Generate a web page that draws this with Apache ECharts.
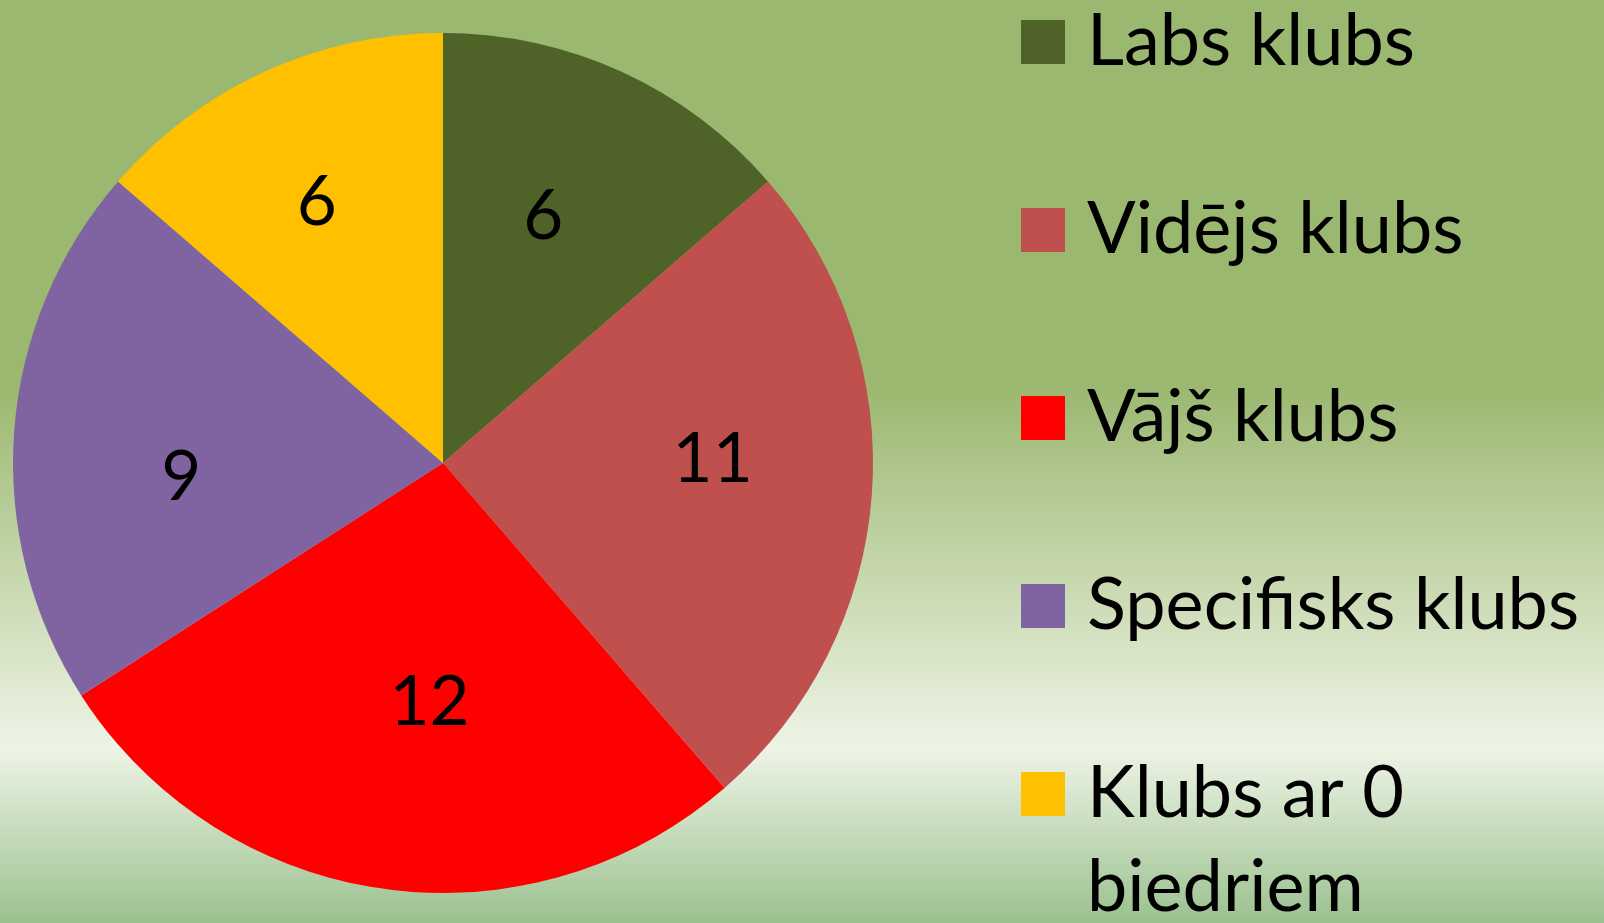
<!DOCTYPE html>
<html>
<head>
<meta charset="utf-8">
<script src="https://cdn.jsdelivr.net/npm/echarts@6/dist/echarts.min.js"></script>
<style>
  html, body { margin: 0; padding: 0; }
  #chart { width: 1604px; height: 923px; }
</style>
</head>
<body>
<div id="chart"></div>
<script>
const categories = ['Labs klubs', 'Vidējs klubs', 'Vājš klubs', 'Specifisks klubs', 'Klubs ar 0 biedriem'];
const values = [6, 11, 12, 9, 6];
const colors = ['#4F6228', '#C0504D', '#FF0000', '#8064A2', '#FFC000'];
const legendLines = [['Labs klubs'], ['Vidējs klubs'], ['Vājš klubs'], ['Specifisks klubs'], ['Klubs ar 0', 'biedriem']];

// label placement style (nudges in px, applied after library layout)
const labelNudge = [[-12, 0], [0, -23], [25, -28], [8, 34], [-14, -14]];

const FONT = 'Lato';
const FS = 72;
const CX = 443, CY = 463;

const rich = { t: { fontFamily: FONT, fontSize: FS, lineHeight: 94, color: '#000' },
               sp: { width: 22 }, ind: { width: 66 } };
colors.forEach((c, i) => { rich['sq' + i] = { width: 44, height: 44, backgroundColor: c }; });

const chart = echarts.init(document.getElementById('chart'), null, { renderer: 'canvas' });
chart.setOption({
  animation: false,
  backgroundColor: {
    type: 'linear', x: 0, y: 0, x2: 0, y2: 1,
    colorStops: [
      { offset: 0, color: '#9BB870' },
      { offset: 0.42, color: '#9BB870' },
      { offset: 0.81, color: '#EEF4E6' },
      { offset: 1, color: '#9BC18F' }
    ]
  },
  legend: {
    orient: 'vertical',
    left: 1016,
    top: -5,
    height: 2000,
    padding: 0,
    itemWidth: 0,
    itemHeight: 0,
    itemGap: 94,
    icon: 'rect',
    selectedMode: false,
    data: categories,
    formatter: function (name) {
      const i = categories.indexOf(name);
      const lines = legendLines[i];
      return lines.map((l, j) => j === 0 ? '{sq' + i + '|}{sp|}{t|' + l + '}' : '{ind|}{t|' + l + '}').join('\n');
    },
    textStyle: { rich: rich, fontFamily: FONT, fontSize: FS, lineHeight: 94 }
  },
  series: [{
    type: 'pie',
    center: [CX, CY],
    radius: 430,
    startAngle: 90,
    clockwise: true,
    avoidLabelOverlap: false,
    data: categories.map((n, i) => ({ name: n, value: values[i], itemStyle: { color: colors[i] } })),
    itemStyle: { borderWidth: 0 },
    label: {
      show: true,
      position: 'inside',
      formatter: '{c}',
      fontFamily: FONT,
      fontSize: 69,
      color: '#000'
    },
    labelLine: { show: false },
    labelLayout: function (p) {
      const r = p.labelRect;
      const lx = r.x + r.width / 2, ly = r.y + r.height / 2;
      const k = 1.24;
      const n = labelNudge[p.dataIndex] || [0, 0];
      return { x: CX + (lx - CX) * k + n[0], y: CY + (ly - CY) * k + n[1] };
    },
    emphasis: { disabled: true }
  }]
});
</script>
</body>
</html>
